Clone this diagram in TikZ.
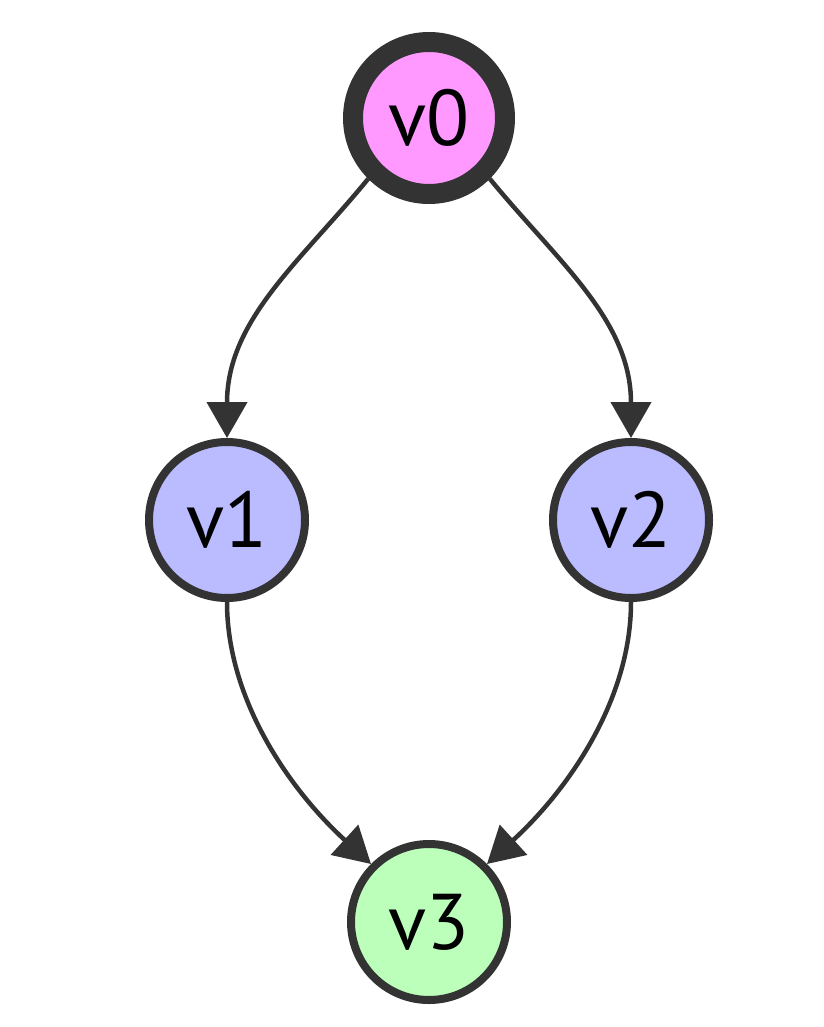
\documentclass[tikz,border=0pt]{standalone}
\usepackage{fontspec}
\setmainfont{PT Sans}
\usetikzlibrary{arrows.meta}
\definecolor{EdgeGrey}{RGB}{51,51,51}
\definecolor{StartPink}{RGB}{255,153,255}
\definecolor{MidLilac}{RGB}{187,187,255}
\definecolor{EndGreen}{RGB}{187,255,187}
\tikzset{
  flow/.style={-{Triangle[length=36pt,width=40pt]},line width=4.5pt,draw=EdgeGrey},
  vertex/.style={circle,draw=EdgeGrey,line width=8pt,minimum size=156pt,
    inner sep=0pt,font=\fontsize{79}{94}\selectfont},
  startvertex/.style={vertex,fill=StartPink,line width=20pt,minimum size=152pt},
  midvertex/.style={vertex,fill=MidLilac},
  endvertex/.style={vertex,fill=EndGreen}
}
\begin{document}
\begin{tikzpicture}[x=1pt,y=-1pt]
  \useasboundingbox (0,0) rectangle (823,1027);
  \node[startvertex] (v0) at (429,118) {v0};
  \node[midvertex] (v1) at (227,520) {v1};
  \node[midvertex] (v2) at (631,520) {v2};
  \node[endvertex] (v3) at (429,922) {v3};
  \draw[flow] (v0.225) .. controls (300,262) and (227,320) .. (v1.north);
  \draw[flow] (v0.-45) .. controls (558,262) and (631,320) .. (v2.north);
  \draw[flow] (v1.south) .. controls (227,700) and (290,790) .. (v3.135);
  \draw[flow] (v2.south) .. controls (631,700) and (568,790) .. (v3.45);
\end{tikzpicture}
\end{document}
